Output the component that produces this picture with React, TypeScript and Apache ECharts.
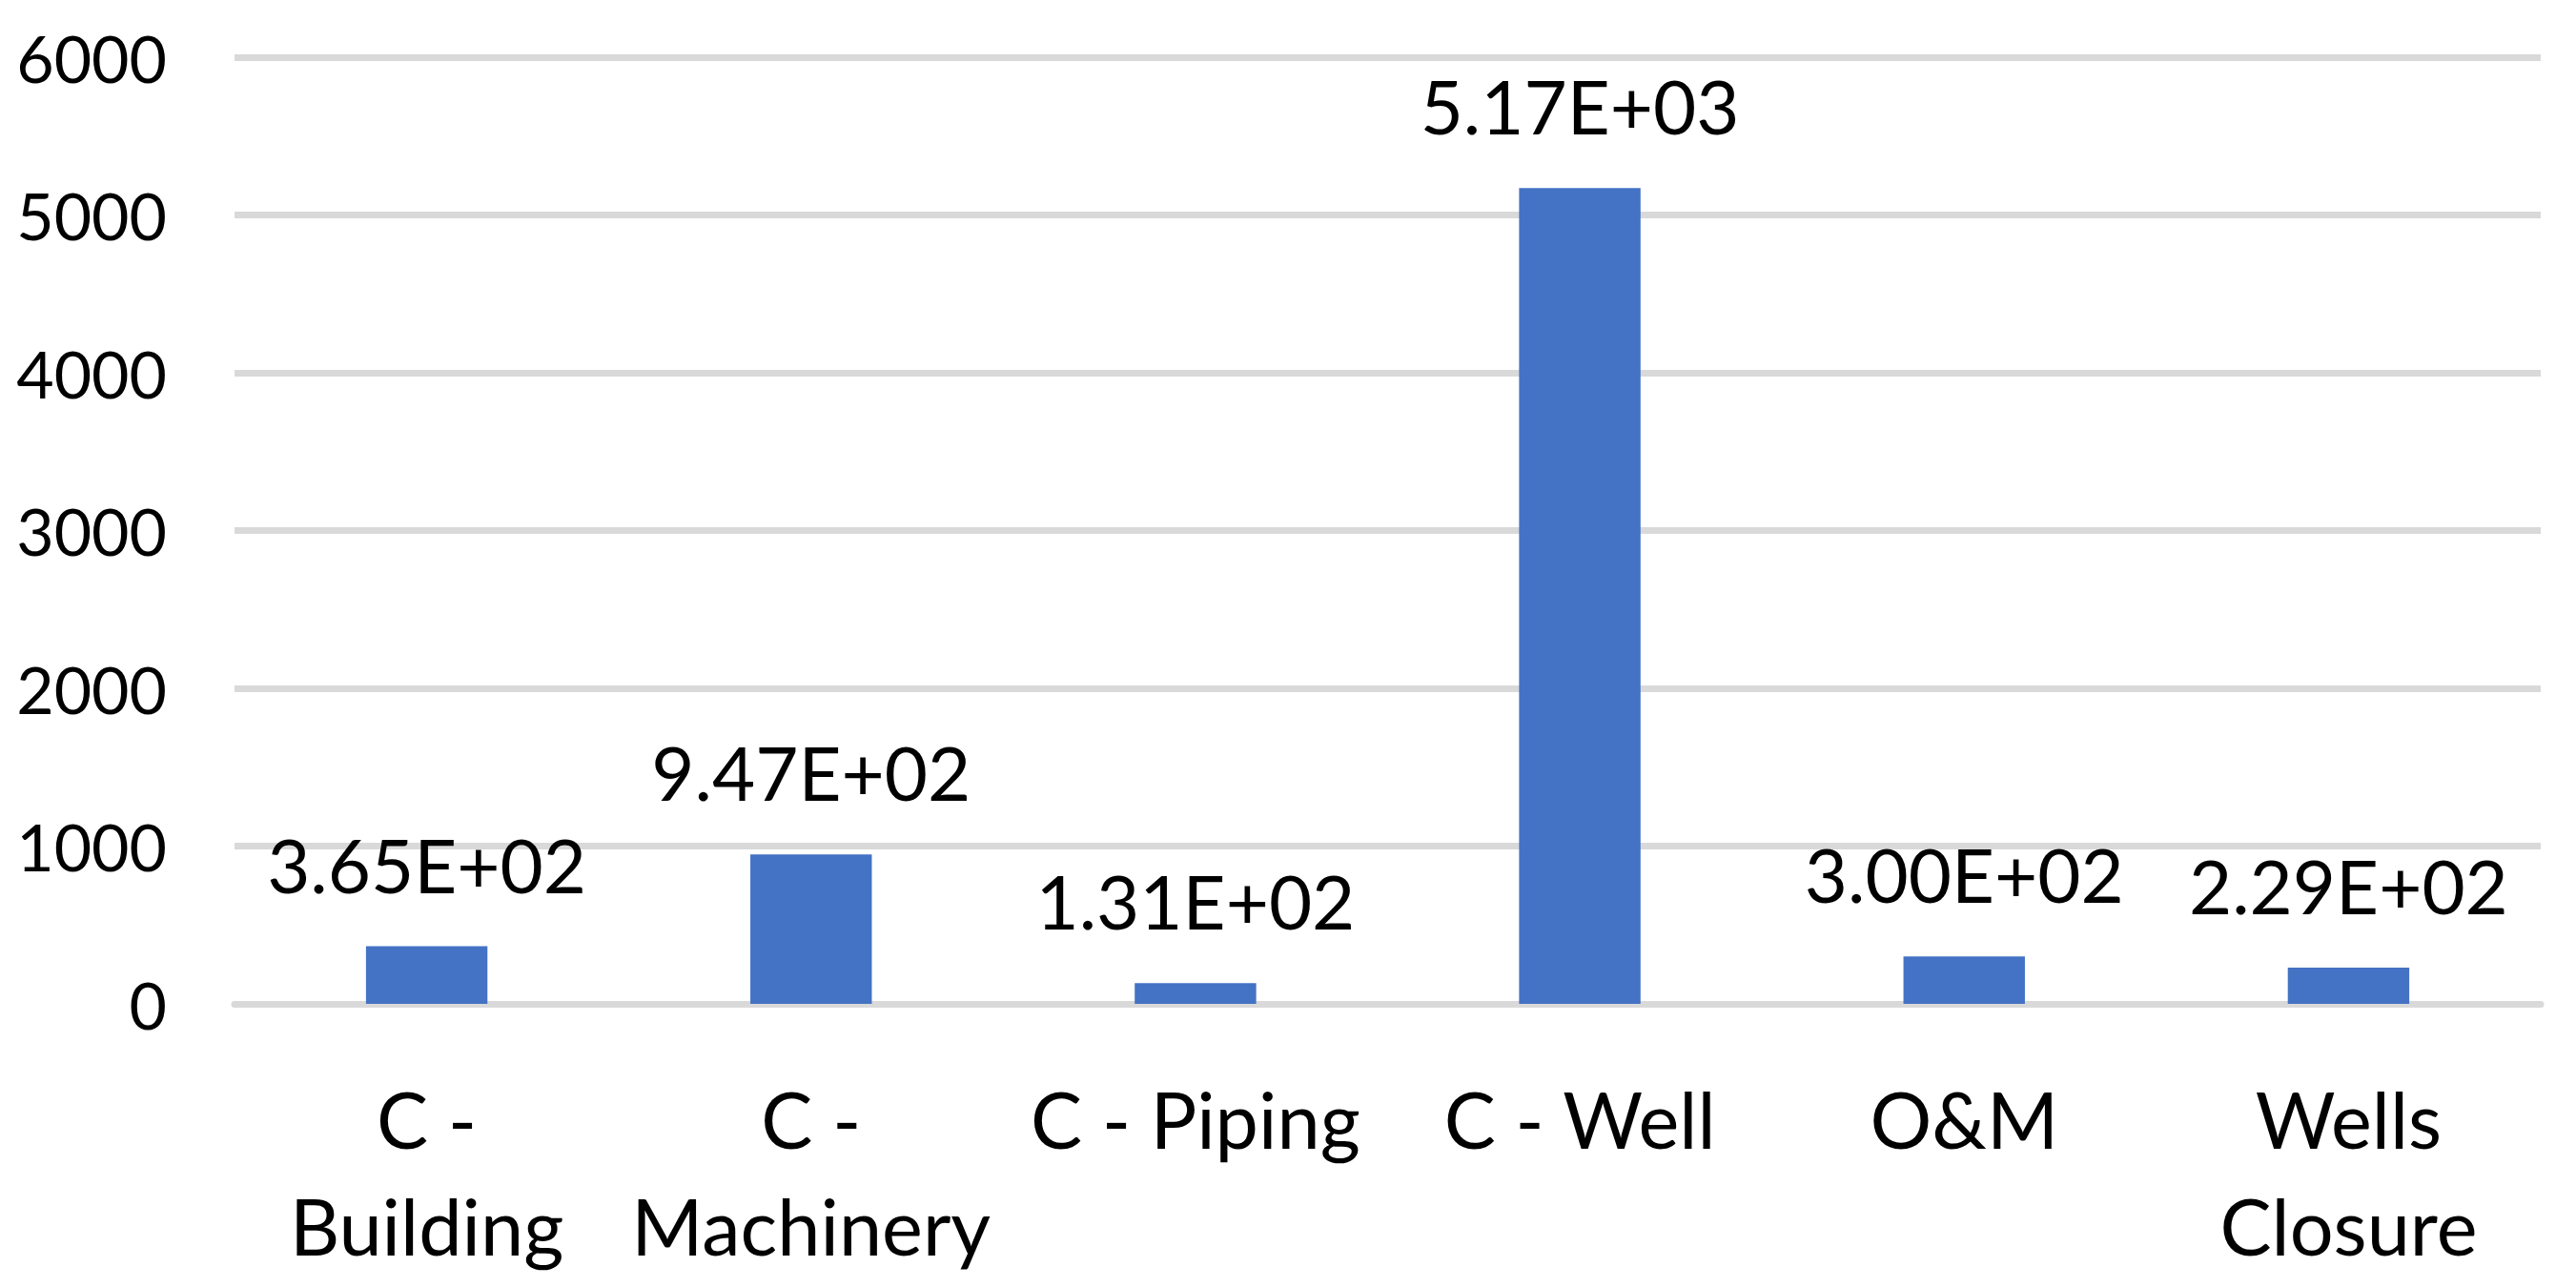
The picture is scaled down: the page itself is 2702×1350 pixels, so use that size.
import { useEffect, useRef } from "react";
import * as echarts from "echarts";

const categories = ["C -\nBuilding", "C -\nMachinery", "C - Piping", "C - Well", "O&M", "Wells\nClosure"];
const values = [365, 947, 131, 5170, 300, 229];
const yTicks = [0, 1000, 2000, 3000, 4000, 5000, 6000];

const FONT = "Lato, 'Open Sans', sans-serif";

// Excel-style scientific label, e.g. 3.65E+02
function sci(v: number) {
  const [m, e] = v.toExponential(2).split("e");
  const sign = e[0] === "-" ? "-" : "+";
  const exp = e.replace(/[+-]/, "").padStart(2, "0");
  return `${m}E${sign}${exp}`;
}

export default function App() {
  const chartRef = useRef<HTMLDivElement>(null);

  useEffect(() => {
    if (!chartRef.current) return;
    const chart = echarts.init(chartRef.current, undefined, { renderer: "svg" });

    chart.setOption({
      animation: false,
      backgroundColor: "#ffffff",
      grid: { left: 246, right: 37, top: 60, bottom: 297, containLabel: false },
      xAxis: {
        type: "category",
        data: categories,
        axisTick: { show: false },
        axisLine: { show: true, lineStyle: { color: "#d9d9d9", width: 7 } },
        axisLabel: {
          interval: 0,
          margin: 64,
          color: "#000",
          fontFamily: FONT,
          fontSize: 81,
          lineHeight: 112,
        },
      },
      yAxis: {
        type: "value",
        min: yTicks[0],
        max: yTicks[yTicks.length - 1],
        interval: 1000,
        axisLine: { show: false },
        axisTick: { show: false },
        splitLine: { show: true, lineStyle: { color: "#d9d9d9", width: 7 } },
        axisLabel: {
          margin: 71,
          color: "#000",
          fontFamily: FONT,
          fontSize: 68,
          formatter: (v: number) => String(v),
        },
      },
      series: [
        {
          type: "bar",
          data: values,
          barWidth: "31.6%",
          itemStyle: { color: "#4472C4" },
          label: {
            show: true,
            position: "top",
            distance: 47,
            color: "#000",
            fontFamily: FONT,
            fontSize: 78,
            lineHeight: 78,
            formatter: (p: any) => sci(p.value),
          },
        },
      ],
    });

    return () => {
      chart.dispose();
    };
  }, []);

  return (
    <div
      ref={chartRef}
      style={{ position: "absolute", left: 0, top: 0, width: 2702, height: 1350 }}
    />
  );
}
